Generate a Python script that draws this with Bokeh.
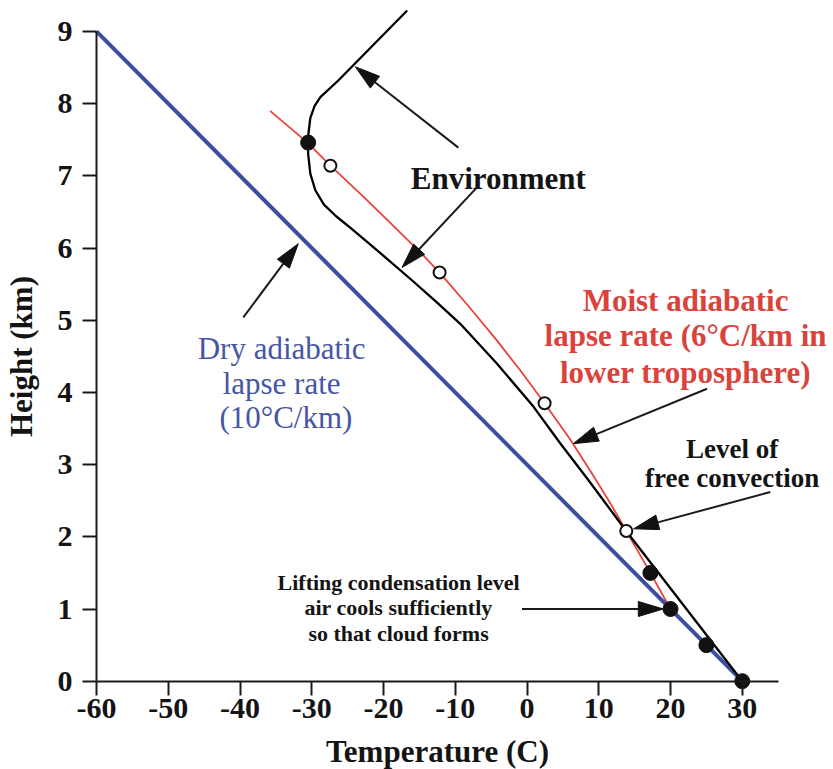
import math
from bokeh.plotting import figure
from bokeh.models import Range1d, FixedTicker
from bokeh.core.properties import value
from bokeh.embed import file_html
from bokeh.resources import INLINE

# ---------------- data ----------------
x_ticks = [-60, -50, -40, -30, -20, -10, 0, 10, 20, 30]
y_ticks = [0, 1, 2, 3, 4, 5, 6, 7, 8, 9]
x_tick_labels = ["-60", "-50", "-40", "-30", "-20", "-10", "0", "10", "20", "30"]
y_tick_labels = ["0", "1", "2", "3", "4", "5", "6", "7", "8", "9"]
x_title = "Temperature (C)"
y_title = "Height (km)"

# dry adiabatic lapse rate (10 C/km)
dry_T = [-60, 30]
dry_h = [9, 0]

# moist adiabatic parcel path
moist_T = [30, 20, 17.2, 13.84, 11.7, 9.1, 6.0, 2.45, -0.9, -4.2, -8.2, -12.18,
           -14.5, -16.5, -19.8, -22.7, -27.4, -30.6, -35.8]
moist_h = [0, 1.0, 1.5, 2.08, 2.45, 2.87, 3.35, 3.85, 4.3, 4.72, 5.2, 5.66,
           5.9, 6.1, 6.42, 6.7, 7.14, 7.46, 7.9]

# environmental sounding
env_T = [30, 13.9, 8.6, 4.6, 0.92, -4.2, -9.3, -12.6, -16.0, -21.5, -24.6, -26.6,
         -28.3, -29.5, -30.2, -30.5, -30.5, -30.2, -29.6, -28.8, -26.3, -16.7]
env_h = [0, 2.07, 2.78, 3.3, 3.8, 4.4, 4.95, 5.25, 5.55, 6.02, 6.28, 6.44,
         6.6, 6.8, 7.03, 7.3, 7.55, 7.8, 7.97, 8.09, 8.32, 9.29]

# parcel markers
filled_T = [30, 25, 20, 17.2, -30.5]
filled_h = [0, 0.5, 1.0, 1.5, 7.46]
open_T = [13.84, 2.45, -12.18, -27.4]
open_h = [2.08, 3.85, 5.66, 7.14]

# annotation arrows: tail -> tip
arrow_tail_T = [-9.57, -6.97, -39.54, 25.09, 33.91, -0.70]
arrow_tail_h = [7.39, 6.84, 5.04, 4.05, 2.62, 1.0]
arrow_tip_T = [-23.93, -17.42, -31.87, 6.45, 14.86, 19.0]
arrow_tip_h = [8.51, 5.73, 6.06, 3.29, 2.11, 1.0]

# text annotations
env_label = ["Environment"]
env_label_T = [-4.0]
env_label_h = [6.96]

dry_label = ["Dry adiabatic", "lapse rate", "(10°C/km)"]
dry_label_T = [-34.2, -34.2, -33.6]
dry_label_h = [4.61, 4.13, 3.65]

moist_label = ["Moist adiabatic", "lapse rate (6°C/km in", "lower troposphere)"]
moist_label_T = [22.1, 22.1, 22.1]
moist_label_h = [5.27, 4.79, 4.28]

lfc_label = ["Level of", "free convection"]
lfc_label_T = [28.6, 28.6]
lfc_label_h = [3.22, 2.81]

lcl_label = ["Lifting condensation level", "air cools sufficiently", "so that cloud forms"]
lcl_label_T = [-17.9, -17.9, -17.9]
lcl_label_h = [1.37, 1.02, 0.655]

# ---------------- figure ----------------
W, H = 833, 769
PX_PER_C, PX_PER_KM = 7.175, 72.2     # scale of the reference
ORIGIN_PX = (96.0, 680.7)             # pixel of (-60 C, 0 km)
X0 = -60 - ORIGIN_PX[0] / PX_PER_C
X1 = -60 + (W - ORIGIN_PX[0]) / PX_PER_C
Y0 = -(H - ORIGIN_PX[1]) / PX_PER_KM
Y1 = ORIGIN_PX[1] / PX_PER_KM

FONT = "Liberation Serif"
BLUE = "#3b4ea0"
BLUE_TXT = "#4656a6"
RED = "#e8433e"
RED_TXT = "#d9433c"
INK = "#141414"

p = figure(width=W, height=H, x_range=Range1d(X0, X1), y_range=Range1d(Y0, Y1),
           output_backend="svg", toolbar_location=None,
           min_border_left=0, min_border_right=0, min_border_top=0, min_border_bottom=0)
p.outline_line_color = None
p.grid.grid_line_color = None
p.background_fill_color = "white"
p.border_fill_color = "white"

p.xaxis.ticker = FixedTicker(ticks=x_ticks)
p.yaxis.ticker = FixedTicker(ticks=y_ticks)
p.xaxis.major_label_overrides = dict(zip(x_ticks, x_tick_labels))
p.yaxis.major_label_overrides = dict(zip(y_ticks, y_tick_labels))
p.xaxis.bounds = (-60, 35)
p.yaxis.bounds = (0, 9)
p.xaxis.fixed_location = 0
p.yaxis.fixed_location = -60
for ax in (p.xaxis, p.yaxis):
    ax.axis_line_width = 2
    ax.axis_line_color = "#1a1a1a"
    ax.major_tick_line_width = 2
    ax.major_tick_line_color = "#1a1a1a"
    ax.major_tick_out = 14
    ax.major_tick_in = 0
    ax.minor_tick_line_color = None
    ax.major_label_text_font = FONT
    ax.major_label_text_font_style = "bold"
    ax.major_label_text_font_size = "30px"
    ax.major_label_text_color = INK
    ax.axis_label_text_font = FONT
    ax.axis_label_text_font_style = "bold"
    ax.axis_label_text_font_size = "31px"
    ax.axis_label_text_color = INK
p.xaxis.major_label_standoff = 4
p.yaxis.major_label_standoff = 10
p.xaxis.axis_label = x_title
p.yaxis.axis_label = y_title
p.xaxis.axis_label_standoff = 12
p.yaxis.axis_label_standoff = 16

# lines
p.line(moist_T, moist_h, line_color=RED, line_width=1.8, line_join="round")
p.line(dry_T, dry_h, line_color=BLUE, line_width=4)
p.line(env_T, env_h, line_color="black", line_width=2.3, line_join="round")

# arrows: shaft + elongated filled head, head shaped in screen pixels
HEAD_L, HEAD_W = 25, 15
shaft_x0, shaft_y0, shaft_x1, shaft_y1 = [], [], [], []
head_xs, head_ys = [], []
for tx, ty, hx, hy in zip(arrow_tail_T, arrow_tail_h, arrow_tip_T, arrow_tip_h):
    dx, dy = (hx - tx) * PX_PER_C, (hy - ty) * PX_PER_KM
    L = math.hypot(dx, dy)
    ux, uy = dx / L, dy / L
    bx, by = hx - HEAD_L * ux / PX_PER_C, hy - HEAD_L * uy / PX_PER_KM
    nx, ny = -uy, ux
    c1 = (bx + HEAD_W / 2 * nx / PX_PER_C, by + HEAD_W / 2 * ny / PX_PER_KM)
    c2 = (bx - HEAD_W / 2 * nx / PX_PER_C, by - HEAD_W / 2 * ny / PX_PER_KM)
    shaft_x0.append(tx); shaft_y0.append(ty)
    shaft_x1.append(bx); shaft_y1.append(by)
    head_xs.append([hx, c1[0], c2[0]])
    head_ys.append([hy, c1[1], c2[1]])
p.segment(shaft_x0, shaft_y0, shaft_x1, shaft_y1, line_color="#1a1a1a", line_width=2)
p.patches(head_xs, head_ys, fill_color="#111111", line_color="#111111", line_width=1)

# markers
p.scatter(filled_T, filled_h, size=15, fill_color="#111111", line_color="#111111")
p.scatter(open_T, open_h, size=12, fill_color="white", line_color="#111111", line_width=2)

# texts
def txt(xs, ys, labels, color, size, style):
    p.text(xs, ys, text=labels, text_align="center", text_baseline="alphabetic",
           text_font=value(FONT), text_font_size=size, text_font_style=style,
           text_color=color)

txt(env_label_T, env_label_h, env_label, INK, "31px", "bold")
txt(dry_label_T, dry_label_h, dry_label, BLUE_TXT, "31px", "normal")
txt(moist_label_T, moist_label_h, moist_label, RED_TXT, "31px", "bold")
txt(lfc_label_T, lfc_label_h, lfc_label, INK, "27px", "bold")
txt(lcl_label_T, lcl_label_h, lcl_label, INK, "22px", "bold")

open("out.html", "w").write(file_html(p, INLINE))
